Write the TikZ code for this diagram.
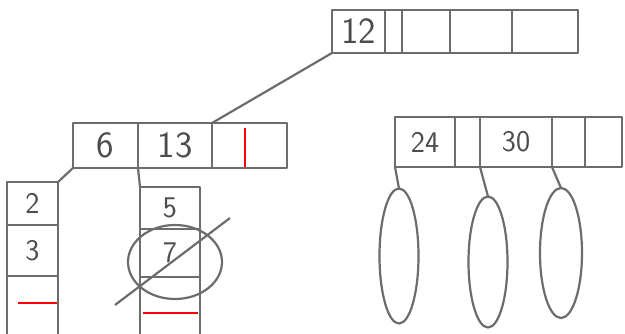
\documentclass[tikz,border=0pt]{standalone}
\usepackage{tikz}
\usetikzlibrary{shapes.geometric}
\begin{document}
\begin{tikzpicture}[x=1pt,y=-1pt,
  pen/.style={draw=gray!85!black,line width=2.2pt,line join=round},
  cell/.style={pen,rectangle,inner sep=0pt,outer sep=0pt,text=gray!60!black,
    font=\sffamily\fontsize{30}{30}\selectfont},
  bigcell/.style={cell,font=\sffamily\fontsize{37}{37}\selectfont},
  redmark/.style={draw=red,line width=2.8pt},
  bucket/.style={pen,ellipse,inner sep=0pt,outer sep=0pt,minimum width=39pt}]
\useasboundingbox (0,0) rectangle (625,333);
\clip (0,0) rectangle (625,333);
\begin{scope}
\node[bigcell,minimum width=53pt,minimum height=43pt] (r1) at (358.5,31.5) {12};
\node[cell,minimum width=17pt,minimum height=43pt] (r2) at (393.5,31.5) {};
\node[cell,minimum width=48pt,minimum height=43pt] (r3) at (426,31.5) {};
\node[cell,minimum width=62pt,minimum height=43pt] (r4) at (481,31.5) {};
\node[cell,minimum width=66pt,minimum height=43pt] (r5) at (545,31.5) {};
\end{scope}
\begin{scope}
\node[bigcell,minimum width=65pt,minimum height=45pt] (m1) at (105.5,145.5) {6};
\node[bigcell,minimum width=74pt,minimum height=45pt] (m2) at (175,145.5) {13};
\node[cell,minimum width=75pt,minimum height=45pt] (m3) at (249.5,145.5) {};
\draw[redmark] (245,128) -- (245,167);
\end{scope}
\begin{scope}
\node[cell,minimum width=60pt,minimum height=50pt] (k1) at (425,142) {24};
\node[cell,minimum width=25pt,minimum height=50pt] (k2) at (467.5,142) {};
\node[cell,minimum width=72pt,minimum height=50pt] (k3) at (516,142) {30};
\node[cell,minimum width=33pt,minimum height=50pt] (k4) at (568.5,142) {};
\node[cell,minimum width=37pt,minimum height=50pt] (k5) at (603.5,142) {};
\end{scope}
\begin{scope}
\node[cell,minimum width=51pt,minimum height=43pt] (l1a) at (32.5,203.5) {2};
\node[cell,minimum width=51pt,minimum height=51pt] (l1b) at (32.5,250.5) {3};
\node[cell,minimum width=51pt,minimum height=69pt] (l1c) at (32.5,310.5) {};
\draw[redmark] (18,303) -- (57,303);
\end{scope}
\begin{scope}
\node[cell,minimum width=60pt,minimum height=42pt] (l2a) at (170,208) {5};
\node[cell,minimum width=60pt,minimum height=48pt] (l2b) at (170,253) {7};
\node[cell,minimum width=60pt,minimum height=68pt] (l2c) at (170,311) {};
\draw[redmark] (143,313) -- (198,313);
\draw[pen] (175,262) ellipse [x radius=47,y radius=37];
\draw[pen] (115,305) -- (230,218);
\end{scope}
\node[bucket,minimum height=135pt] (e1) at (399,256) {};
\node[bucket,minimum height=131pt] (e2) at (488,262) {};
\node[bucket,minimum width=42pt,minimum height=130pt] (e3) at (561,253) {};
\draw[pen] (r1.south west) -- (m3.north west);
\draw[pen] (m1.south west) -- (l1a.north east);
\draw[pen] (m2.south west) -- (l2a.north west);
\draw[pen] (k1.south west) -- (e1.north);
\draw[pen] (k3.south west) -- (e2.north);
\draw[pen] (k4.south west) -- (e3.north);
\end{tikzpicture}
\end{document}
